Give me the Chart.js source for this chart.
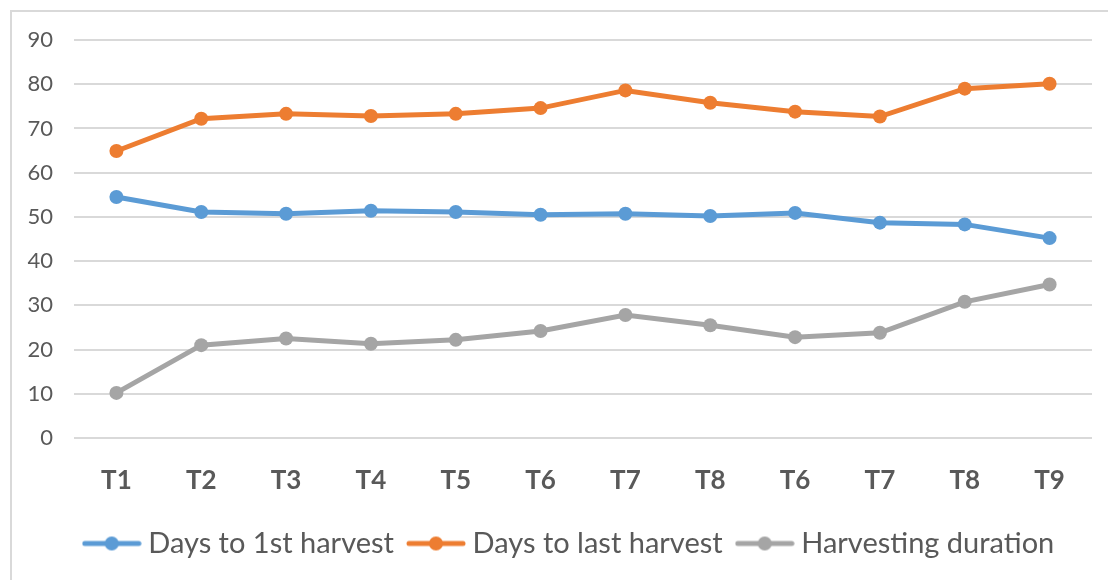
<!DOCTYPE html>
<html>
<head>
<meta charset="utf-8">
<script src="https://cdn.jsdelivr.net/npm/chart.js@4.4.1/dist/chart.umd.min.js"></script>
<style>
  html, body { margin: 0; padding: 0; background: #fff; }
  #wrap { position: relative; width: 1108px; height: 580px; }
</style>
</head>
<body>
<div id="wrap"><canvas id="c" width="1108" height="580"></canvas></div>
<script>
// 처리구 라벨 (원본 그대로 T6~T8 중복)
const treatments = ['T1', 'T2', 'T3', 'T4', 'T5', 'T6', 'T7', 'T8', 'T6', 'T7', 'T8', 'T9'];
const daysToFirst = [54.5, 51.1, 50.7, 51.4, 51.1, 50.5, 50.7, 50.2, 50.9, 48.7, 48.3, 45.2];
const daysToLast = [64.9, 72.2, 73.3, 72.8, 73.3, 74.6, 78.6, 75.8, 73.8, 72.7, 79.0, 80.1];
const harvestDuration = [10.2, 21.0, 22.5, 21.3, 22.2, 24.2, 27.8, 25.5, 22.8, 23.8, 30.8, 34.7];
const yTicks = [0, 10, 20, 30, 40, 50, 60, 70, 80, 90];

const FONT = 'Lato, "Open Sans", sans-serif';
const TEXT = '#595959';
const BLUE = '#5b9bd5', ORANGE = '#ed7d31', GRAY = '#a5a5a5';

// 범례 마커: 선 + 가운데 원
function legendMarker(color) {
  const cv = document.createElement('canvas');
  cv.width = 60; cv.height = 16;
  const g = cv.getContext('2d');
  g.strokeStyle = color; g.lineWidth = 5; g.lineCap = 'round';
  g.beginPath(); g.moveTo(3, 8); g.lineTo(57, 8); g.stroke();
  g.fillStyle = color;
  g.beginPath(); g.arc(30, 8, 7, 0, Math.PI * 2); g.fill();
  return cv;
}

const framePlugin = {
  id: 'frame',
  beforeDraw(chart) {
    const { ctx } = chart;
    ctx.save();
    ctx.strokeStyle = '#d9d9d9';
    ctx.lineWidth = 2;
    ctx.beginPath();
    ctx.moveTo(11, 580); ctx.lineTo(11, 11); ctx.lineTo(1108, 11);
    ctx.stroke();
    ctx.restore();
  },
};

// 범례를 오른쪽으로 조금 이동 (원본은 플롯 영역 기준으로 가운데 정렬)
const legendShift = {
  id: 'legendShift',
  afterLayout(chart) {
    const lg = chart.legend;
    if (!lg) return;
    lg.left += 26;
    lg.right += 26;
  },
};

function series(label, data, color) {
  return {
    label, data,
    borderColor: color, backgroundColor: color,
    borderWidth: 5, pointRadius: 7, pointHoverRadius: 7,
    pointBackgroundColor: color, pointBorderWidth: 0,
    tension: 0, fill: false,
    pointStyle: 'circle',
  };
}

const markers = [legendMarker(BLUE), legendMarker(ORANGE), legendMarker(GRAY)];

new Chart(document.getElementById('c'), {
  type: 'line',
  data: {
    labels: treatments,
    datasets: [
      series('Days to 1st harvest', daysToFirst, BLUE),
      series('Days to last harvest', daysToLast, ORANGE),
      series('Harvesting duration', harvestDuration, GRAY),
    ],
  },
  options: {
    responsive: false,
    animation: false,
    layout: { padding: { top: 40, right: 16, left: 0, bottom: 12 } },
    plugins: {
      tooltip: { enabled: false },
      legend: {
        position: 'bottom',
        labels: {
          usePointStyle: true,
          pointStyleWidth: 44,
          padding: 20,
          color: TEXT,
          font: { family: FONT, size: 29 },
          generateLabels(chart) {
            return chart.data.datasets.map((ds, i) => ({
              text: ds.label,
              pointStyle: markers[i],
              fillStyle: ds.borderColor,
              strokeStyle: ds.borderColor,
              lineWidth: 0,
              fontColor: TEXT,
              hidden: false,
              datasetIndex: i,
            }));
          },
        },
      },
    },
    scales: {
      x: {
        offset: true,
        grid: { display: false, drawTicks: false },
        border: { display: false },
        ticks: { color: TEXT, font: { family: FONT, size: 26, weight: 'bold' }, padding: 27 },
        afterFit(scale) { scale.height = 71; },
      },
      y: {
        min: 0, max: 90,
        afterBuildTicks(scale) { scale.ticks = yTicks.map(v => ({ value: v })); },
        grid: { color: '#d9d9d9', lineWidth: 2, drawTicks: false },
        border: { display: false },
        ticks: { color: TEXT, font: { family: FONT, size: 22 }, padding: 21 },
        afterFit(scale) { scale.width = 74; },
      },
    },
  },
  plugins: [framePlugin, legendShift],
});
</script>
</body>
</html>
